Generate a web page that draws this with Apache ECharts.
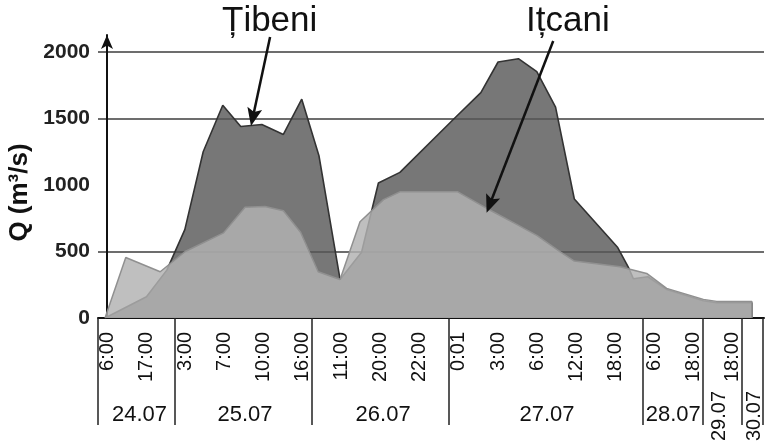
<!DOCTYPE html>
<html>
<head>
<meta charset="utf-8">
<script src="https://cdn.jsdelivr.net/npm/echarts@6/dist/echarts.min.js"></script>
<style>
html,body{margin:0;padding:0;background:#fff;}
#chart{width:767px;height:448px;}
</style>
</head>
<body>
<div id="chart"></div>
<script>
// x unit = position index of the time labels (0 = "6:00" on 24.07)
const timeLabels = ['6:00','17:00','3:00','7:00','10:00','16:00','11:00','20:00','22:00','0:01','3:00','6:00','12:00','18:00','6:00','18:00','18:00'];
const timeTickPos = [0,1,2,3,4,5,6,7,8,9,10,11,12,13,14,15,16];
const dayLabels = ['24.07','25.07','26.07','27.07','28.07'];
const dayLabelPos = [0.83, 3.53, 7.06, 11.25, 14.48];
const dayLabelsVertical = ['29.07','30.07'];
const dayLabelVerticalPos = [15.65, 16.55];
const daySeparatorPos = [-0.23, 1.74, 5.24, 8.75, 13.71, 15.24, 16.24, 16.78];

// Ţibeni discharge, m3/s  [x position, Q]
const tibeni = [
  [-0.05, 0], [1.01, 160], [1.53, 360], [1.99, 665], [2.46, 1250], [2.96, 1600],
  [3.42, 1440], [3.96, 1455], [4.51, 1380], [4.98, 1645], [5.42, 1220], [5.96, 290],
  [6.51, 495], [6.94, 1015], [7.49, 1095], [8.88, 1500], [9.56, 1695], [10.0, 1925],
  [10.52, 1950], [10.99, 1852], [11.47, 1585], [11.95, 895], [13.06, 530], [13.33, 383],
  [13.46, 295], [13.83, 310], [14.31, 215], [15.25, 130], [15.59, 115], [16.49, 115], [16.49, 0]
];
// Iţcani discharge, m3/s
const itcani = [
  [-0.05, 0], [0.48, 455], [1.36, 348], [2.0, 500], [2.98, 640], [3.53, 832], [4.04, 838],
  [4.51, 807], [4.95, 645], [5.40, 348], [5.96, 290], [6.47, 724], [7.07, 890], [7.5, 950],
  [8.96, 950], [9.8, 810], [10.5, 700], [11.0, 620], [11.6, 495], [11.95, 428], [13.12, 386],
  [13.8, 335], [14.31, 223], [15.25, 140], [15.59, 125], [16.49, 125], [16.49, 0]
];

const xMin = -0.23, xMax = 16.80;
const chart = echarts.init(document.getElementById('chart'), null, {renderer: 'canvas'});
const fontFamily = '"Liberation Sans", Arial, sans-serif';
const arrowHead = 'path://M50,0L100,120L50,96L0,120Z';

chart.setOption({
  animation: false,
  backgroundColor: '#ffffff',
  title: [
    {text: 'Țibeni', left: 222, top: 4, padding: 0,
     textStyle: {fontFamily, fontSize: 35, fontWeight: 'normal', color: '#111'}},
    {text: 'Ițcani', left: 526, top: 4, padding: 0,
     textStyle: {fontFamily, fontSize: 35, fontWeight: 'normal', color: '#111'}}
  ],
  grid: {left: 98, right: 3, top: 35, bottom: 130, containLabel: false, outerBoundsMode: 'none'},
  xAxis: [
    {
      type: 'value', min: xMin, max: xMax, position: 'bottom',
      axisLine: {show: true, onZero: false, lineStyle: {color: '#111', width: 2}},
      axisTick: {show: true, customValues: daySeparatorPos, length: 107, inside: false,
                 lineStyle: {color: '#222', width: 1.5}},
      axisLabel: {show: true, customValues: timeTickPos, rotate: 90, margin: 14,
                  fontFamily, fontSize: 20, color: '#111',
                  formatter: v => timeLabels[Math.round(v)]},
      splitLine: {show: false}
    },
    {
      type: 'value', min: xMin, max: xMax, position: 'bottom',
      axisLine: {show: false}, axisTick: {show: false}, splitLine: {show: false},
      axisLabel: {show: true, customValues: dayLabelPos, margin: 86,
                  fontFamily, fontSize: 22, color: '#111',
                  formatter: v => dayLabels[dayLabelPos.indexOf(v)]}
    },
    {
      type: 'value', min: xMin, max: xMax, position: 'bottom',
      axisLine: {show: false}, axisTick: {show: false}, splitLine: {show: false},
      axisLabel: {show: true, customValues: dayLabelVerticalPos, rotate: 90, margin: 73,
                  fontFamily, fontSize: 20, color: '#111',
                  formatter: v => dayLabelsVertical[dayLabelVerticalPos.indexOf(v)]}
    }
  ],
  yAxis: {
    type: 'value', min: 0, max: 2128, interval: 500,
    name: 'Q (m³/s)', nameLocation: 'middle', nameRotate: 90, nameGap: 60,
    nameTextStyle: {fontFamily, fontSize: 26, fontWeight: 'bold', color: '#111', padding: [0, 32, 0, 0]},
    axisLine: {show: true, lineStyle: {color: '#111', width: 2},
               symbol: ['none', 'arrow'], symbolSize: [9, 14]},
    axisTick: {show: false},
    axisLabel: {fontFamily, fontSize: 21, fontWeight: 'bold', color: '#222', margin: 8,
                showMaxLabel: false,
                formatter: v => String(v)},
    splitLine: {show: true, showMinLine: false, showMaxLine: false,
                lineStyle: {color: ['#3c3c3c', 'rgba(0,0,0,0)', '#3c3c3c', '#3c3c3c'], width: 1.5}}
  },
  series: [
    {
      name: 'Țibeni', type: 'line', xAxisIndex: 0, data: tibeni,
      showSymbol: false, symbol: 'none',
      lineStyle: {color: '#333', width: 1.6},
      areaStyle: {color: '#575757', opacity: 0.81},
      z: 2
    },
    {
      name: 'Ițcani', type: 'line', xAxisIndex: 0, data: itcani,
      showSymbol: false, symbol: 'none',
      lineStyle: {color: '#909090', width: 1.5},
      areaStyle: {color: '#b2b2b2', opacity: 0.83},
      z: 3,
      markLine: {
        silent: true, symbol: ['none', arrowHead], symbolSize: [15, 18],
        label: {show: false},
        lineStyle: {color: '#111', width: 2.5, type: 'solid'},
        data: [
          [{coord: [4.17, 2113]}, {coord: [3.73, 1510]}],
          [{coord: [11.41, 2083]}, {coord: [9.79, 855]}]
        ]
      }
    }
  ]
});
</script>
</body>
</html>
